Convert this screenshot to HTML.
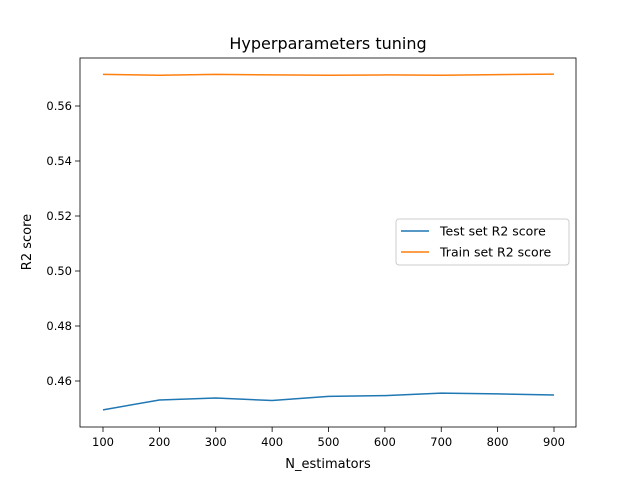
<!DOCTYPE html>
<html><head><meta charset="utf-8"><style>
body{margin:0;background:#fff;font-family:"Liberation Sans","DejaVu Sans",sans-serif;}
svg text{font-family:"DejaVu Sans","Liberation Sans",sans-serif;}
</style></head><body>
<svg id="chart" width="640" height="480" xmlns="http://www.w3.org/2000/svg">
<rect width="640" height="480" fill="#fff"/>
<text x="328" y="49" font-size="16" text-anchor="middle">Hyperparameters tuning</text>
<g id="axes"></g>
<text x="328" y="468" font-size="13" text-anchor="middle">N_estimators</text>
<text x="31" y="242" font-size="13" text-anchor="middle" transform="rotate(-90 31 242)">R2 score</text>
</svg>
<script>
const categories=[100,200,300,400,500,600,700,800,900];
const testScores=[0.4495,0.4531,0.4538,0.4529,0.4544,0.4547,0.4556,0.4553,0.4549];
const trainScores=[0.5715,0.5712,0.5715,0.5713,0.5712,0.5713,0.5712,0.5714,0.5716];
const yTicks=[0.46,0.48,0.50,0.52,0.54,0.56];
const xTicks=[100,200,300,400,500,600,700,800,900];
const NS="http://www.w3.org/2000/svg";
const L=80,R=576,T=58,B=427;
function xs(v){return 103+(v-100)*(554-103)/800;}
function ys(v){return 381-(v-0.46)*2750;}
const g=document.getElementById('axes');
function mk(t,a){const e=document.createElementNS(NS,t);for(const k in a)e.setAttribute(k,a[k]);g.appendChild(e);return e;}
xTicks.forEach(v=>{
 const l=mk('line',{x1:xs(v),x2:xs(v),y1:B,y2:B+5,stroke:'#000','stroke-width':0.8});
 
 
 const t=mk('text',{x:xs(v),y:B+19,'font-size':'11.5','text-anchor':'middle'});t.textContent=v;
 
 
});
yTicks.forEach(v=>{
 const l=mk('line',{x1:L-5,x2:L,y1:ys(v),y2:ys(v),stroke:'#000','stroke-width':0.8});
 
 
 const t=mk('text',{x:L-8,y:ys(v)+4,'font-size':'11.5','text-anchor':'end'});t.textContent=v.toFixed(2);
 
 
});
function line(vals,color,name){
 const p=mk('polyline',{points:categories.map((c,i)=>xs(c)+','+ys(vals[i])).join(' '),fill:'none',stroke:color,'stroke-width':1.5});
 
 
}
line(testScores,'#1f77b4','test-line');
line(trainScores,'#ff7f0e','train-line');
const fr=mk('rect',{x:L,y:T,width:R-L,height:B-T,fill:'none',stroke:'#000','stroke-width':0.8});


const lg=mk('rect',{x:396,y:219,width:173,height:46,rx:3,fill:'#fff',stroke:'#ccc','stroke-width':1});


[['Test set R2 score','#1f77b4',231],['Train set R2 score','#ff7f0e',252]].forEach(([n,c,y])=>{
 const l=mk('line',{x1:401,x2:429,y1:y,y2:y,stroke:c,'stroke-width':1.5});
 
 
 const t=mk('text',{x:440,y:y+4.5,'font-size':'12.5'});t.textContent=n;
 
 
});
</script>
</body></html>
